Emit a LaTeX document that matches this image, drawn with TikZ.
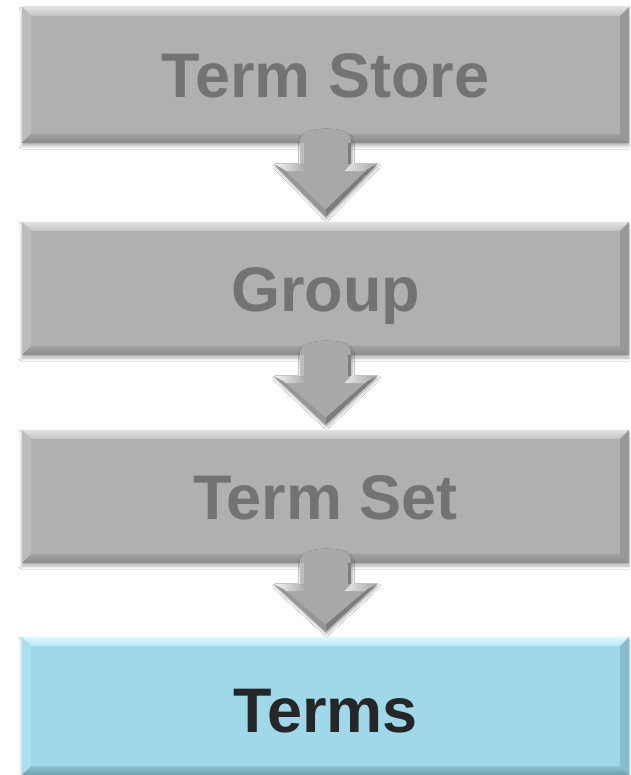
\documentclass[tikz,border=0pt]{standalone}
\usepackage{fontspec}
\setmainfont{Liberation Sans}
\usetikzlibrary{calc,shadows.blur}
\definecolor{gfill}{HTML}{B0B0B0}
\definecolor{gtext}{HTML}{737373}
\definecolor{gtopA}{HTML}{E2E2E2}
\definecolor{gtopB}{HTML}{C2C2C2}
\definecolor{gleft}{HTML}{BCBCBC}
\definecolor{gbotA}{HTML}{8A8A8A}
\definecolor{gbotB}{HTML}{A0A0A0}
\definecolor{gright}{HTML}{989898}
\definecolor{bfill}{HTML}{9FD9E9}
\definecolor{btext}{HTML}{262626}
\definecolor{btopA}{HTML}{DDF8FD}
\definecolor{btopB}{HTML}{B5EAF5}
\definecolor{bleft}{HTML}{AADFED}
\definecolor{bbotA}{HTML}{6E9FAD}
\definecolor{bbotB}{HTML}{8CC2D1}
\definecolor{bright}{HTML}{86BCCB}
\definecolor{afill}{HTML}{A8A8A8}
\definecolor{adark}{HTML}{7C7C7C}
\definecolor{amid}{HTML}{969696}
\newcommand\mybevel[7]{%
  \shade[top color=#2,bottom color=#3] (#1.north west) -- (#1.north east) -- ($(#1.north east)+(-9,9)$) -- ($(#1.north west)+(9,9)$) -- cycle;
  \fill[#4] (#1.north west) -- ($(#1.north west)+(9,9)$) -- ($(#1.south west)+(9,-9)$) -- (#1.south west) -- cycle;
  \shade[top color=#6,bottom color=#5] (#1.south west) -- ($(#1.south west)+(9,-9)$) -- ($(#1.south east)+(-9,-9)$) -- (#1.south east) -- cycle;
  \fill[#7] (#1.north east) -- ($(#1.north east)+(-9,9)$) -- ($(#1.south east)+(-9,-9)$) -- (#1.south east) -- cycle;
}
\newcommand\myarrow[2]{%
  \begin{scope}[shift={(#1.south)}]
    \path[fill=afill, blur shadow={shadow xshift=1pt, shadow yshift=-2pt, shadow blur radius=2.5pt, shadow opacity=35}]
      (-25.5,0) -- (-25.5,-2) .. controls (-25.5,-11) and (-14,-14) .. (0,-14)
      .. controls (14,-14) and (25.5,-11) .. (25.5,-2) -- (25.5,21) -- (51.5,21)
      -- ($(#2.north)-(#1.south)+(0,-5)$) coordinate (tip) -- (-51.5,21) -- (-25.5,21) -- cycle;
    \shade[left color=white, right color=afill, opacity=0.9] (-51.5,21) -- (-25.5,21) -- (-19,28) -- (-41,28) -- cycle;
    \shade[left color=white!80!afill, right color=afill, opacity=0.9] (25.5,21) -- (51.5,21) -- (41,28) -- (19,28) -- cycle;
    \fill[adark] (51.5,21) -- (tip) -- ($(tip)+(0,-7)$) -- (42,26) -- cycle;
    \fill[amid] (-51.5,21) -- (tip) -- ($(tip)+(0,-7)$) -- (-42,26) -- cycle;
    \fill[adark] (25.5,0) -- (25.5,21) -- (22,21) -- (22,0) -- cycle;
    \fill[white, opacity=0.25] (-25.5,0) -- (-25.5,21) -- (-22,21) -- (-22,0) -- cycle;
  \end{scope}
}
\tikzset{
  box/.style={rectangle, minimum width=607pt, inner sep=0pt, text height=45pt, text depth=0pt,
    font=\fontsize{63}{70}\selectfont\bfseries,
    blur shadow={shadow xshift=0pt, shadow yshift=-3pt, shadow blur radius=3pt, shadow opacity=30}},
  graybox/.style={box, fill=gfill, text=gtext},
  bluebox/.style={box, fill=bfill, text=btext}
}
\begin{document}
\begin{tikzpicture}[x=1pt,y=-1pt]
\useasboundingbox[fill=white] (0,0) rectangle (630,775);
\node[graybox, minimum height=136pt] (b1) at (325.5,75) {Term Store};
\node[graybox, minimum height=133pt] (b2) at (325.5,288.5) {Group};
\node[graybox, minimum height=133pt] (b3) at (325.5,496.5) {Term Set};
\node[bluebox, minimum height=138pt, text height=52pt] (b4) at (325.5,706) {Terms};
\mybevel{b1}{gtopA}{gtopB}{gleft}{gbotA}{gbotB}{gright}
\mybevel{b2}{gtopA}{gtopB}{gleft}{gbotA}{gbotB}{gright}
\mybevel{b3}{gtopA}{gtopB}{gleft}{gbotA}{gbotB}{gright}
\mybevel{b4}{btopA}{btopB}{bleft}{bbotA}{bbotB}{bright}
\myarrow{b1}{b2}
\myarrow{b2}{b3}
\myarrow{b3}{b4}
\end{tikzpicture}
\end{document}
